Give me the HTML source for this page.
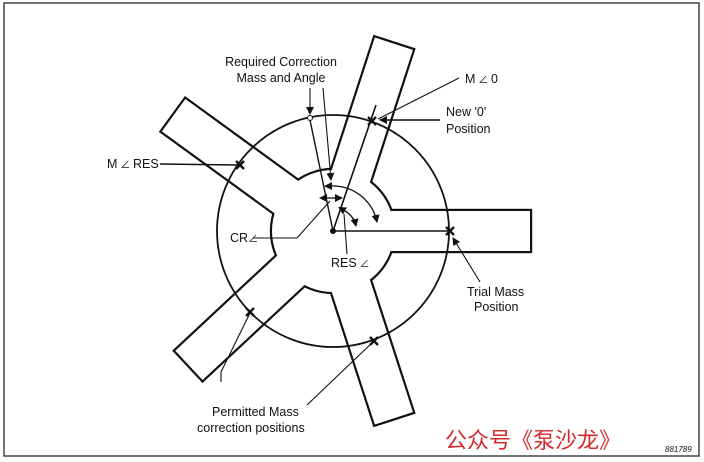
<!DOCTYPE html>
<html><head><meta charset="utf-8"><style>
html,body{margin:0;padding:0;background:#fff;}
svg{display:block;}
text{font-family:"Liberation Sans","Noto Sans CJK SC",sans-serif;fill:#111;}
</style></head><body>
<svg width="704" height="462" viewBox="0 0 704 462" xmlns="http://www.w3.org/2000/svg">
<defs>
<marker id="ah" markerWidth="8" markerHeight="8" refX="7" refY="4" orient="auto" markerUnits="userSpaceOnUse">
<path d="M0,0 L8,4 L0,8 Z" fill="#111"/></marker>
<marker id="ahs" markerWidth="10" markerHeight="10" refX="0" refY="4" orient="auto-start-reverse" markerUnits="userSpaceOnUse">
<path d="M0,0 L8,4 L0,8 Z" fill="#111"/></marker>
<g id="shape">
<circle cx="333" cy="231" r="61"/>
<rect x="0" y="-20" width="197" height="40" transform="translate(333,231)"/>
<rect x="0" y="-20" width="197" height="40" transform="translate(333,231) rotate(-72)"/>
<rect x="0" y="-20" width="197" height="40" transform="translate(333,231) rotate(-144)"/>
<rect x="0" y="-20" width="197" height="40" transform="translate(333,231) rotate(-223)"/>
<rect x="0" y="-20" width="197" height="40" transform="translate(333,231) rotate(-288)"/>
</g>
</defs>
<rect x="4" y="3" width="695" height="453" fill="none" stroke="#444" stroke-width="1.5"/>
<use href="#shape" fill="#111" stroke="#111" stroke-width="4.4"/>
<use href="#shape" fill="#fff" stroke="none"/>
<circle cx="333" cy="231" r="116" fill="none" stroke="#111" stroke-width="1.8"/>
<line x1="333" y1="231" x2="450" y2="231" stroke="#111" stroke-width="1.6"/>
<line x1="333" y1="231" x2="376" y2="105" stroke="#111" stroke-width="1.6"/>
<line x1="333" y1="231" x2="310" y2="120" stroke="#111" stroke-width="1.4"/>
<circle cx="333" cy="231" r="3" fill="#111"/>
<circle cx="310" cy="118" r="2.5" fill="#fff" stroke="#111" stroke-width="1"/>
<path d="M332,186 A45,45 0 0 1 377,222" fill="none" stroke="#111" stroke-width="1.3" marker-start="url(#ahs)" marker-end="url(#ah)"/>
<path d="M345,211 A23,23 0 0 1 356,226" fill="none" stroke="#111" stroke-width="1.3" marker-start="url(#ahs)" marker-end="url(#ah)"/>
<line x1="327" y1="198" x2="342" y2="198" stroke="#111" stroke-width="1.3" marker-start="url(#ahs)" marker-end="url(#ah)"/>
<g stroke="#111" stroke-width="2.4">
<path d="M236,161 l8,8 M244,161 l-8,8"/>
<path d="M368,117 l8,8 M376,117 l-8,8"/>
<path d="M446,227 l8,8 M454,227 l-8,8"/>
<path d="M246,308 l8,8 M254,308 l-8,8"/>
<path d="M370,337 l8,8 M378,337 l-8,8"/>
</g>
<g stroke="#111" stroke-width="1.1" fill="none">
<line x1="310" y1="88" x2="310" y2="114" marker-end="url(#ah)"/>
<line x1="323" y1="88" x2="331" y2="180" marker-end="url(#ah)"/>
<line x1="459" y1="78" x2="378" y2="119"/>
<line x1="440" y1="120" x2="380" y2="120" stroke-width="1.6" marker-end="url(#ah)"/>
<line x1="160" y1="164" x2="238" y2="165" stroke-width="1.5"/>
<polyline points="253,238 297,238 330,201"/>
<line x1="347" y1="254" x2="344" y2="214"/>
<line x1="480" y1="282" x2="453" y2="238" marker-end="url(#ah)"/>
<polyline points="221,382 221,372 250,313"/>
<line x1="307" y1="405" x2="373" y2="342"/>
</g>
<g font-size="12.5">
<text x="281" y="66" text-anchor="middle">Required Correction</text>
<text x="281" y="82" text-anchor="middle">Mass and Angle</text>
<text x="465" y="83">M<tspan font-size="10"> ∠ </tspan> 0</text>
<text x="446" y="116">New '0'</text>
<text x="446" y="133">Position</text>
<text x="107" y="168">M<tspan font-size="10"> ∠ </tspan>RES</text>
<text x="230" y="242">CR<tspan font-size="10">∠</tspan></text>
<text x="331" y="267">RES<tspan font-size="10"> ∠</tspan></text>
<text x="467" y="296">Trial Mass</text>
<text x="474" y="311">Position</text>
<text x="212" y="416">Permitted Mass</text>
<text x="197" y="432">correction positions</text>
</g>
<text x="445" y="448" font-size="22" style="fill:#d42a2a">公众号《泵沙龙》</text>
<text x="665" y="452" font-size="8" font-style="italic">881789</text>
</svg>
</body></html>
